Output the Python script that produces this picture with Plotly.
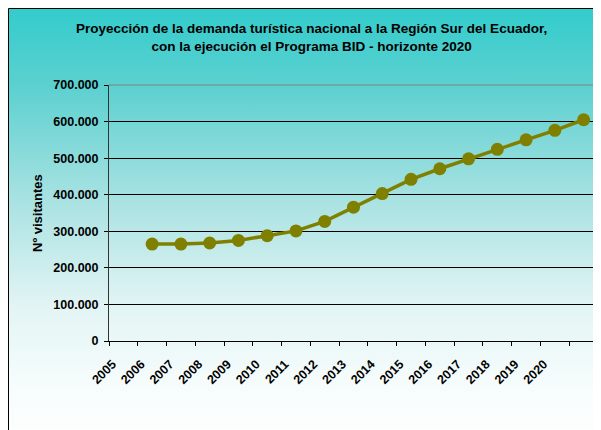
import base64
import plotly.graph_objects as go

# ---- data ----
YEARS = ["2005", "2006", "2007", "2008", "2009", "2010", "2011", "2012",
         "2013", "2014", "2015", "2016", "2017", "2018", "2019", "2020"]
CATEGORIES = YEARS + [" "]          # axis has one extra unlabeled category
VISITORS = [265000, 265000, 268000, 275000, 288000, 301000, 327000, 366000,
            403000, 442000, 471000, 498000, 524000, 550000, 576000, 605000]
# the series is drawn one category to the right of its labels (as in the source)
X_POS = CATEGORIES[1:]
Y_TICKS = [0, 100000, 200000, 300000, 400000, 500000, 600000, 700000]

TITLE = ("Proyección de la demanda turística nacional a la Región Sur del Ecuador,<br>"
         "con la ejecución el Programa BID - horizonte 2020")
Y_TITLE = "Nº visitantes"

# page has an 8px body margin; figure is sized to fit the remaining viewport
OFF = 8
W, H = 601 - OFF, 430 - OFF
ML, MR, MT, MB = 109 - OFF, 3, 85 - OFF, 89
PW, PH = W - ML - MR, H - MT - MB

def px(xp):  # page pixel x -> paper
    return (xp - OFF - ML) / PW

def py(yp):  # page pixel y -> paper
    return (H - MB - (yp - OFF)) / PH

FONT = "Liberation Sans, Arial, sans-serif"

svg = (
    '<svg xmlns="http://www.w3.org/2000/svg" width="100" height="100" preserveAspectRatio="none">'
    '<defs><linearGradient id="g" x1="0" y1="0" x2="0" y2="1">'
    '<stop offset="0" stop-color="#33CCCC"/>'
    '<stop offset="0.18" stop-color="#5DD0D0"/>'
    '<stop offset="0.44" stop-color="#A9E2E2"/>'
    '<stop offset="0.68" stop-color="#E2F4F4"/>'
    '<stop offset="0.86" stop-color="#F6FCFC"/>'
    '<stop offset="1" stop-color="#FFFFFF"/>'
    '</linearGradient></defs>'
    '<rect width="100" height="100" fill="url(#g)"/></svg>'
)
svg_uri = "data:image/svg+xml;base64," + base64.b64encode(svg.encode()).decode()

BOX_L, BOX_T, BOX_R, BOX_B = 8.5, 8.5, 600, 445

fig = go.Figure()
fig.add_trace(go.Scatter(
    x=X_POS, y=VISITORS, mode="lines+markers",
    line=dict(color="#808000", width=3.5),
    marker=dict(color="#808000", size=13, line=dict(width=0)),
    showlegend=False, cliponaxis=False,
))

fig.update_layout(
    width=W, height=H,
    margin=dict(l=ML, r=MR, t=MT, b=MB, pad=0),
    paper_bgcolor="white",
    plot_bgcolor="rgba(0,0,0,0)",
    separators=",.",
    font=dict(family=FONT, size=12.5, color="black"),
    images=[dict(
        source=svg_uri, xref="paper", yref="paper",
        x=px(BOX_L), y=py(BOX_T),
        sizex=px(BOX_R) - px(BOX_L), sizey=py(BOX_T) - py(BOX_B),
        sizing="stretch", layer="below", xanchor="left", yanchor="top",
    )],
    shapes=[
        dict(type="rect", xref="paper", yref="paper",
             x0=px(BOX_L), x1=px(BOX_R), y0=py(BOX_B), y1=py(BOX_T),
             line=dict(color="black", width=1), layer="above"),
        dict(type="line", xref="paper", yref="paper", x0=0, x1=1, y0=1, y1=1,
             line=dict(color="#808080", width=1), layer="above"),
        dict(type="line", xref="paper", yref="paper", x0=1, x1=1, y0=0, y1=1,
             line=dict(color="#808080", width=1), layer="above"),
    ],
    annotations=[
        dict(text="<b>" + TITLE + "</b>", xref="paper", yref="paper",
             x=px(311), y=py(37), xanchor="center", yanchor="middle",
             showarrow=False, font=dict(family=FONT, size=13.5, color="black")),
        dict(text="<b>" + Y_TITLE + "</b>", xref="paper", yref="paper",
             x=px(37), y=0.5, xanchor="center", yanchor="middle", textangle=-90,
             showarrow=False, font=dict(family=FONT, size=13, color="black")),
    ],
    xaxis=dict(
        type="category", categoryorder="array", categoryarray=CATEGORIES,
        tickmode="array", tickvals=CATEGORIES, ticktext=CATEGORIES,
        range=[-0.5, len(CATEGORIES) - 0.5],
        tickson="boundaries", ticks="outside", ticklen=4, tickcolor="black",
        tickwidth=1, tickangle=-45,
        showline=True, linecolor="black", linewidth=1,
        showgrid=False, zeroline=False,
        tickfont=dict(family=FONT, size=12.5, color="black", weight="bold"),
        ticklabelstandoff=10, ticklabelshift=-11,
    ),
    yaxis=dict(
        range=[0, 700000], tickmode="array", tickvals=Y_TICKS,
        tickformat=",.0f",
        ticks="outside", ticklen=4, tickcolor="black", tickwidth=1,
        showline=True, linecolor="#333333", linewidth=1,
        showgrid=True, gridcolor="black", gridwidth=1, zeroline=False,
        tickfont=dict(family=FONT, size=12.5, color="black", weight="bold"),
        ticklabelstandoff=3,
    ),
)

fig.write_html("out.html")
